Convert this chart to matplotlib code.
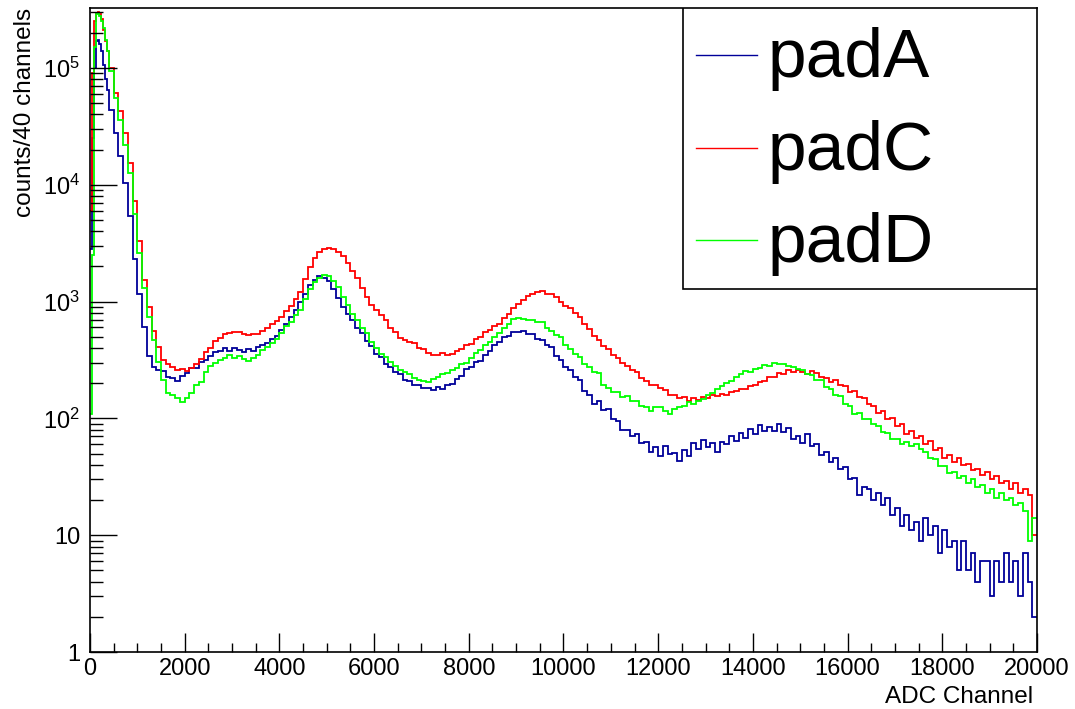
import numpy as np
import matplotlib
matplotlib.use("Agg")
import matplotlib.pyplot as plt
from matplotlib.patches import Rectangle
from matplotlib.lines import Line2D
from matplotlib.ticker import MultipleLocator, FixedLocator, NullFormatter

plt.rcParams["font.family"] = ["Liberation Sans", "DejaVu Sans"]
plt.rcParams["mathtext.fontset"] = "custom"
plt.rcParams["mathtext.rm"] = "Liberation Sans"

# bin edges: fine bins over the sharp low-channel peak, then 100-channel bins
bin_edges = np.concatenate([np.arange(0, 400, 40), np.arange(400, 20001, 100)])

# counts per bin
pada = [2800, 25000, 100000, 170000, 175000, 160000, 140000, 105000, 80000, 65000,
        44000, 27500, 17800, 10400, 5400, 2300, 1150, 610, 345, 276,
        258, 252, 228, 221, 207, 229, 244, 271, 268, 301,
        318, 339, 368, 381, 404, 376, 401, 386, 369, 394,
        376, 408, 425, 442, 476, 505, 572, 648, 736, 842,
        1000, 1170, 1390, 1520, 1640, 1590, 1490, 1290, 1070, 905,
        780, 700, 592, 535, 458, 415, 358, 334, 291, 276,
        248, 240, 214, 208, 192, 195, 182, 181, 176, 186,
        180, 194, 198, 218, 230, 265, 274, 305, 312, 352,
        380, 428, 448, 495, 510, 548, 545, 556, 528, 523,
        482, 470, 422, 405, 340, 318, 276, 262, 226, 215,
        172, 160, 134, 140, 118, 121, 98, 95, 80, 79,
        70, 74, 62, 63, 52, 57, 48, 58, 50, 51,
        43, 54, 48, 61, 55, 65, 57, 62, 52, 63,
        60, 71, 64, 75, 68, 81, 74, 88, 78, 84,
        78, 90, 76, 82, 67, 70, 62, 74, 58, 60,
        49, 52, 42, 46, 37, 38, 30, 31, 22, 26,
        25, 20, 23, 18, 21, 15, 17, 12, 15, 11,
        13, 9, 14, 10, 12, 7, 11, 8, 9, 5,
        9, 5, 7, 4, 6, 6, 3, 6, 4, 7,
        4, 6, 3, 7, 4, 2]

padc = [6000, 90000, 250000, 295000, 300000, 290000, 260000, 210000, 170000, 140000,
        100000, 61000, 43000, 27500, 15500, 7200, 3300, 1520, 890, 565,
        405, 315, 290, 276, 258, 266, 255, 272, 290, 322,
        372, 398, 462, 488, 528, 541, 552, 545, 532, 518,
        526, 532, 564, 596, 645, 688, 735, 835, 915, 1060,
        1210, 1560, 1980, 2350, 2640, 2800, 2860, 2810, 2680, 2440,
        2130, 1830, 1580, 1310, 1100, 935, 845, 760, 695, 598,
        548, 488, 468, 448, 438, 402, 390, 362, 352, 350,
        362, 348, 355, 378, 396, 425, 436, 475, 498, 545,
        572, 615, 648, 725, 785, 875, 955, 1040, 1110, 1170,
        1210, 1225, 1170, 1160, 1085, 990, 915, 875, 795, 745,
        645, 580, 505, 470, 415, 390, 350, 332, 296, 282,
        258, 248, 222, 210, 192, 195, 182, 175, 160, 160,
        148, 152, 140, 148, 144, 152, 148, 158, 155, 162,
        158, 168, 170, 180, 178, 190, 192, 205, 208, 225,
        228, 245, 240, 258, 250, 262, 248, 240, 255, 246,
        228, 220, 205, 214, 195, 188, 168, 170, 152, 148,
        132, 128, 112, 116, 98, 100, 86, 90, 74, 78,
        68, 71, 60, 64, 54, 56, 46, 49, 42, 46,
        40, 41, 36, 37, 33, 35, 30, 32, 28, 29,
        25, 28, 23, 25, 22, 10]

padd = [110, 2500, 150000, 290000, 295000, 280000, 250000, 220000, 175000, 140000,
        95000, 55000, 36000, 22000, 12500, 5600, 2600, 1300, 740, 470,
        305, 215, 165, 160, 150, 138, 150, 166, 192, 206,
        248, 282, 298, 318, 332, 348, 330, 342, 322, 312,
        330, 352, 388, 408, 446, 482, 540, 612, 665, 770,
        855, 1060, 1270, 1460, 1600, 1690, 1640, 1510, 1320, 1100,
        940, 790, 695, 595, 535, 455, 402, 358, 334, 302,
        282, 258, 250, 238, 220, 212, 208, 204, 218, 226,
        238, 245, 258, 268, 290, 300, 326, 360, 388, 422,
        452, 500, 535, 598, 645, 705, 718, 715, 696, 692,
        675, 662, 595, 565, 515, 495, 425, 390, 355, 338,
        295, 275, 250, 245, 195, 182, 168, 168, 152, 154,
        142, 140, 128, 124, 116, 126, 124, 116, 108, 121,
        126, 128, 138, 133, 142, 146, 160, 166, 180, 188,
        202, 208, 228, 238, 252, 250, 265, 272, 285, 282,
        296, 290, 294, 280, 278, 264, 258, 238, 235, 215,
        212, 186, 180, 158, 155, 132, 128, 110, 112, 98,
        99, 90, 86, 76, 75, 66, 66, 60, 63, 58,
        60, 55, 52, 46, 45, 39, 39, 34, 35, 31,
        32, 28, 30, 26, 27, 23, 25, 21, 23, 20,
        21, 18, 19, 16, 9, 14]

labels = ["padA", "padC", "padD"]
colors = ["#000099", "#ff0000", "#00ff00"]

ytick_vals = [1, 10, 100, 1000, 10000, 100000]
ytick_labels = ["1", "10", r"$\mathregular{10^{2}}$", r"$\mathregular{10^{3}}$",
                r"$\mathregular{10^{4}}$", r"$\mathregular{10^{5}}$"]

fig = plt.figure(figsize=(10.75, 7.09), dpi=100)
ax = fig.add_axes([0.08372, 0.08039, 0.88093, 0.90832])

for vals, col in zip([pada, padc, padd], colors):
    ax.stairs(vals, bin_edges, baseline=None, color=col, lw=1.3)

ax.set_yscale("log")
ax.set_xlim(0, 20000)
ax.set_ylim(1, 3.26e5)

ax.xaxis.set_major_locator(MultipleLocator(2000))
ax.xaxis.set_minor_locator(MultipleLocator(500))
ax.yaxis.set_major_locator(FixedLocator(ytick_vals))
ax.set_yticklabels(ytick_labels)
minor_y = [m * 10 ** e for e in range(0, 6) for m in range(2, 10)]
ax.yaxis.set_minor_locator(FixedLocator(minor_y))
ax.yaxis.set_minor_formatter(NullFormatter())

ax.tick_params(axis="x", which="major", direction="in", length=13.7, width=1,
               labelsize=17, pad=4, top=False)
ax.tick_params(axis="x", which="minor", direction="in", length=6.5, width=1, top=False)
ax.tick_params(axis="y", which="major", direction="in", length=19.4, width=1,
               labelsize=17, pad=7, right=False)
ax.tick_params(axis="y", which="minor", direction="in", length=9.4, width=1, right=False)
for s in ax.spines.values():
    s.set_linewidth(1.2)

fig.text(1033 / 1075, 6 / 709, "ADC Channel", ha="right", va="baseline", fontsize=17.5)
fig.text(25 / 1075, 1 - 8 / 709, "counts/40 channels", rotation=90,
         ha="center", va="top", fontsize=17.5)

# legend box in the upper right corner
ax.add_patch(Rectangle((0.626, 0.564), 0.374, 0.436, transform=ax.transAxes,
                       facecolor="white", edgecolor="black", lw=1.2, zorder=5))
row_y = [0.927, 0.783, 0.639]
for lab, col, yy in zip(labels, colors, row_y):
    ax.add_line(Line2D([0.640, 0.704], [yy, yy], transform=ax.transAxes,
                       color=col, lw=1, zorder=6))
    ax.text(0.716, yy - 0.006, lab, transform=ax.transAxes, fontsize=50,
            ha="left", va="center", zorder=6)

fig.savefig("out.png", dpi=100)
